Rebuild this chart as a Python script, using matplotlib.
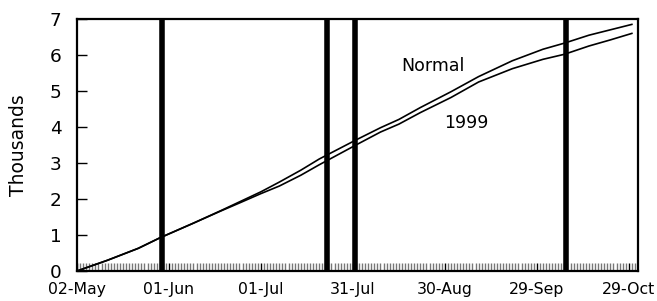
import matplotlib
matplotlib.use("Agg")
import matplotlib.pyplot as plt
import numpy as np

# Days since 02-May
days = [0, 10, 20, 27, 38, 47, 53, 60, 66, 73, 79, 91, 99, 105, 112, 122, 131, 142, 152, 159, 167, 174, 181]
normal = [0, 0.30, 0.63, 0.92, 1.33, 1.68, 1.92, 2.20, 2.47, 2.80, 3.11, 3.64, 3.98, 4.21, 4.54, 4.98, 5.40, 5.84, 6.16, 6.33, 6.55, 6.70, 6.85]
y1999 = [0, 0.30, 0.63, 0.92, 1.33, 1.67, 1.89, 2.15, 2.36, 2.66, 2.95, 3.50, 3.86, 4.08, 4.40, 4.82, 5.25, 5.62, 5.88, 6.02, 6.25, 6.42, 6.60]
event_days = [27.6, 81.5, 90.6, 159.6]
tick_days = [0, 30, 60, 90, 120, 150, 180]
tick_labels = ["02-May", "01-Jun", "01-Jul", "31-Jul", "30-Aug", "29-Sep", "29-Oct"]
yticks = [0, 1, 2, 3, 4, 5, 6, 7]

plt.rcParams['font.family'] = ['DejaVu Sans']

fig = plt.figure(figsize=(6.57, 3.01), dpi=100)
ax = fig.add_axes([77/657, 30/301, (638-77)/657, (271-19)/301])

ax.plot(days, normal, color='black', lw=1.2)
ax.plot(days, y1999, color='black', lw=1.2)
ax.vlines(event_days, 0, 7, color='black', lw=4.0)

ax.set_xlim(0, 183)
ax.set_ylim(0, 7)
ax.set_xticks(tick_days)
ax.set_xticklabels(tick_labels, fontsize=11.3)
ax.set_xticks(np.arange(0, 183, 1), minor=True)
ax.tick_params(axis='x', which='major', direction='in', length=6, width=1, color='black', pad=8)
ax.tick_params(axis='x', which='minor', direction='in', length=6, width=1, color='#777777')
ax.set_yticks(yticks)
ax.set_yticklabels([str(v) for v in yticks], fontsize=13.3)
ax.tick_params(axis='y', direction='in', length=7, width=1, color='black', pad=11)
ax.set_ylabel("Thousands", fontsize=13.5, labelpad=16)

for s in ax.spines.values():
    s.set_linewidth(1.6)
    s.set_color('black')

ax.text(116, 5.69, "Normal", fontsize=12.5, ha='center', va='center')
ax.text(127, 4.11, "1999", fontsize=12.5, ha='center', va='center')

fig.savefig("out.png", dpi=100)
